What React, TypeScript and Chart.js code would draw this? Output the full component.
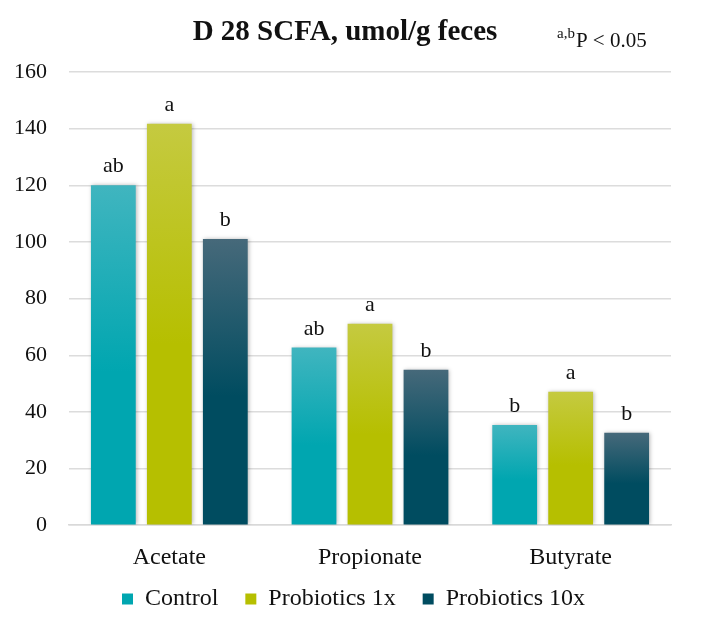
import React, { useEffect, useRef } from "react";
import { Chart, registerables } from "chart.js";

Chart.register(...registerables);

const categories = ["Acetate", "Propionate", "Butyrate"];
const seriesNames = ["Control", "Probiotics 1x", "Probiotics 10x"];
const controlValues = [120, 62.7, 35.4];
const probiotics1xValues = [141.7, 71.1, 47.1];
const probiotics10xValues = [101, 54.9, 32.6];
const controlLetters = ["ab", "ab", "b"];
const probiotics1xLetters = ["a", "a", "a"];
const probiotics10xLetters = ["b", "b", "b"];
const yMin = 0;
const yMax = 160;
const yStep = 20;
const titleText = "D 28 SCFA, umol/g feces";
const noteSup = "a,b";
const noteText = "P < 0.05";

const SERIF = "'Liberation Serif', 'Times New Roman', serif";
const baseColors = ["#00a6b0", "#b6bf00", "#004c60"];
const topColors = ["#40b5bf", "#c5ca40", "#46697a"];

const letters = [controlLetters, probiotics1xLetters, probiotics10xLetters];
const values = [controlValues, probiotics1xValues, probiotics10xValues];

const LEGEND_DY = -30;
const LEGEND_DX = 18;

function gradientFor(i: number) {
  return (ctx: any) => {
    const chart = ctx.chart;
    const y = chart.scales?.y;
    if (!chart.chartArea || !y || ctx.type !== "data") return baseColors[i];
    const top = y.getPixelForValue(ctx.raw);
    const bottom = y.getPixelForValue(0);
    const g = chart.ctx.createLinearGradient(0, top, 0, bottom);
    g.addColorStop(0, topColors[i]);
    g.addColorStop(0.55, baseColors[i]);
    g.addColorStop(1, baseColors[i]);
    return g;
  };
}

const shadowPlugin = {
  id: "barShadow",
  beforeDatasetDraw(chart: any) {
    const c = chart.ctx;
    c.save();
    c.shadowColor = "rgba(0,0,0,0.28)";
    c.shadowBlur = 4;
    c.shadowOffsetX = 1;
    c.shadowOffsetY = 0;
  },
  afterDatasetDraw(chart: any) {
    chart.ctx.restore();
  },
};

const legendShiftPlugin = {
  id: "legendShift",
  afterUpdate(chart: any) {
    const L = chart.legend;
    if (L) {
      L.top += LEGEND_DY;
      L.bottom += LEGEND_DY;
      L.left += LEGEND_DX;
      L.right += LEGEND_DX;
    }
  },
};

const textPlugin = {
  id: "texts",
  afterDatasetsDraw(chart: any) {
    const c = chart.ctx;
    c.save();
    c.fillStyle = "#111";
    c.font = `22px ${SERIF}`;
    c.textAlign = "center";
    c.textBaseline = "alphabetic";
    chart.data.datasets.forEach((_: any, di: number) => {
      const meta = chart.getDatasetMeta(di);
      meta.data.forEach((bar: any, idx: number) => {
        c.fillText(letters[di][idx], bar.x, bar.y - 13);
      });
    });
    c.font = `bold 29px ${SERIF}`;
    c.fillText(titleText, 345, 40);
    c.textAlign = "left";
    c.font = `15px ${SERIF}`;
    c.fillText(noteSup, 557, 38);
    const w = c.measureText(noteSup).width;
    c.font = `21px ${SERIF}`;
    c.fillText(noteText, 557 + w + 1, 47);
    c.restore();
  },
};

export default function App() {
  const ref = useRef<HTMLCanvasElement | null>(null);
  useEffect(() => {
    if (!ref.current) return;
    const chart = new Chart(ref.current, {
      type: "bar",
      data: {
        labels: categories,
        datasets: values.map((v, i) => ({
          label: seriesNames[i],
          data: v,
          backgroundColor: gradientFor(i),
          borderWidth: 0,
          categoryPercentage: 0.837,
          barPercentage: 0.8,
        })),
      },
      options: {
        responsive: false,
        animation: false,
        layout: { padding: { left: 0, right: 37, top: 72, bottom: -24 } },
        plugins: {
          title: { display: false },
          tooltip: { enabled: false },
          legend: {
            position: "bottom",
            maxHeight: 70,
            labels: {
              boxWidth: 11,
              boxHeight: 11,
              padding: 27,
              color: "#111",
              font: { family: SERIF, size: 24 },
              generateLabels: (ch: any) =>
                ch.data.datasets.map((d: any, i: number) => ({
                  text: d.label,
                  fillStyle: baseColors[i],
                  strokeStyle: baseColors[i],
                  lineWidth: 0,
                  datasetIndex: i,
                  fontColor: "#111",
                })),
            },
          },
        },
        scales: {
          x: {
            grid: { display: false, drawTicks: false },
            border: { display: true, color: "#d9d9d9", width: 1.5 },
            ticks: { color: "#111", font: { family: SERIF, size: 24 }, padding: 18 },
          },
          y: {
            min: yMin,
            max: yMax,
            afterFit: (s: any) => {
              s.width = 69;
            },
            grid: { color: "#dcdcdc", lineWidth: 1.5, drawTicks: false },
            border: { display: false },
            ticks: {
              stepSize: yStep,
              color: "#111",
              font: { family: SERIF, size: 22 },
              padding: 22,
            },
          },
        },
      },
      plugins: [shadowPlugin, legendShiftPlugin, textPlugin],
    });
    return () => chart.destroy();
  }, []);
  return (
    <div style={{ position: "fixed", left: 0, top: 0, width: 708, height: 627, background: "#fff" }}>
      <canvas ref={ref} width={708} height={627} style={{ width: 708, height: 627, display: "block" }} />
    </div>
  );
}
